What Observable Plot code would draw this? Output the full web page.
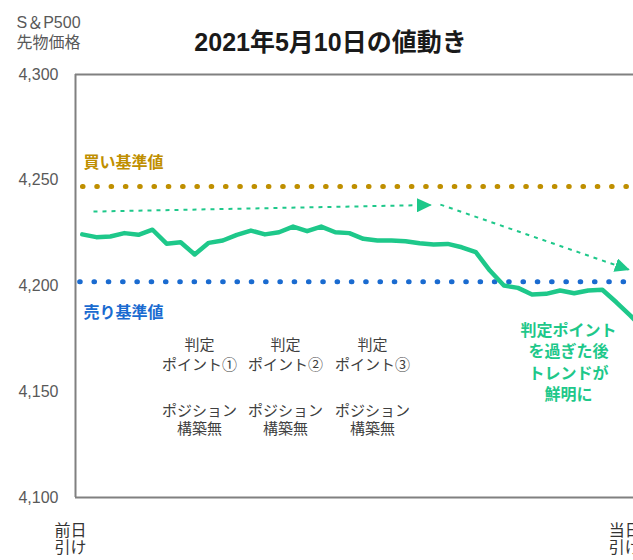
<!DOCTYPE html>
<html><head><meta charset="utf-8">
<script src="https://cdn.jsdelivr.net/npm/d3@7"></script>
<script src="https://cdn.jsdelivr.net/npm/@observablehq/plot@0.6"></script>
<style>body{margin:0;background:#fff}</style>
</head><body><div id="chart"></div>
<script>
// ---- data ----
const title = "2021年5月10日の値動き";
const yLabel = "S＆P500\n先物価格";
const yTicks = [4100, 4150, 4200, 4250, 4300];
const xTickLabels = ["前日\n引け", "当日\n引け"];
const xTickPos = [-0.83, 38.6];
const xDomain = [-0.48, 39.22];
const prices = [4224.4, 4223.1, 4223.4, 4225.0, 4224.2, 4226.6, 4220.0, 4220.7, 4214.9, 4220.4,
  4221.5, 4224.2, 4226.2, 4224.4, 4225.4, 4228.1, 4225.9, 4228.1, 4225.4, 4225.0,
  4222.3, 4221.5, 4221.5, 4221.2, 4220.2, 4219.6, 4219.9, 4218.3, 4216.0, 4207.3,
  4200.2, 4199.1, 4196.0, 4196.3, 4197.9, 4196.6, 4197.9, 4198.2, 4192.3, 4186.0, 4179.0];
const buyLevel = 4247, sellLevel = 4202;
const buyLabel = "買い基準値", sellLabel = "売り基準値";
const labelX = 0.09, buyLabelY = 4258.4, sellLabelY = 4187.1;
const judgeLabels = ["判定\nポイント①", "判定\nポイント②", "判定\nポイント③"];
const judgeX = [8.35, 14.46, 20.65];
const judgeY = 4168.1;
const positionLabel = "ポジション\n構築無";
const positionY = 4136.9;
const trendNote = "判定ポイント\nを過ぎた後\nトレンドが\n鮮明に";
const trendX = 34.6, trendY = 4164.5;
const arrowX1 = [0.8, 25.48], arrowY1 = [4235.2, 4238.5];
const arrowX2 = [24.77, 38.86], arrowY2 = [4238.3, 4207.8];

// ---- build ----
const green = "#1ec88a", gold = "#bf8f00", blue = "#1a6bd0";
const font = '"Liberation Sans", "Noto Sans CJK JP", sans-serif';
const series = prices.map((v, i) => ({i, v}));
const xTicks = xTickLabels.map((t, k) => ({t, x: xTickPos[k]}));
const judge = judgeLabels.map((t, k) => ({t, x: judgeX[k], y: judgeY}));
const position = judgeX.map(x => ({t: positionLabel, x, y: positionY}));
const arrows = arrowX1.map((x1, k) => ({x1, y1: arrowY1[k], x2: arrowX2[k], y2: arrowY2[k]}));

const arrowHead = (color, context) => {
  const m = d3.create("svg:marker")
    .attr("viewBox", "-5 -5 10 10")
    .attr("markerWidth", 15).attr("markerHeight", 14)
    .attr("markerUnits", "userSpaceOnUse")
    .attr("preserveAspectRatio", "none")
    .attr("orient", "auto").attr("refX", 4).attr("refY", 0)
    .attr("fill", color).attr("stroke", "none");
  m.append("path").attr("d", "M-5,-5L5,0L-5,5Z").attr("stroke-dasharray", "none");
  return m.node();
};

const plot = Plot.plot({
  width: 633, height: 560,
  marginTop: 74, marginBottom: 63, marginLeft: 75, marginRight: 0,
  style: {fontFamily: font, color: "#595959", background: "#fff"},
  x: {domain: xDomain, axis: null},
  y: {domain: [4100, 4300]},
  marks: [
    Plot.axisY(yTicks, {tickSize: 0, tickPadding: 17, fontSize: 16, tickFormat: d3.format(","), label: null}),
    Plot.ruleY([buyLevel], {x1: 0.05, x2: xDomain[1], stroke: gold, strokeWidth: 5, strokeDasharray: "0.6,13.7", strokeLinecap: "round"}),
    Plot.ruleY([sellLevel], {x1: -0.15, x2: xDomain[1], stroke: blue, strokeWidth: 5, strokeDasharray: "0.6,13.7", strokeLinecap: "round"}),
    Plot.link(arrows, {x1: "x1", y1: "y1", x2: "x2", y2: "y2", stroke: green, strokeWidth: 2, strokeDasharray: "4,5", markerEnd: arrowHead}),
    Plot.line(series, {x: "i", y: "v", stroke: green, strokeWidth: 4.5, strokeLinejoin: "round", clip: true}),
    Plot.ruleY([4100, 4300], {stroke: "#808080", strokeWidth: 2}),
    Plot.ruleX([xDomain[0]], {stroke: "#808080", strokeWidth: 2}),
    Plot.text([{t: buyLabel, x: labelX, y: buyLabelY}], {x: "x", y: "y", text: "t", textAnchor: "start", fill: gold, fontWeight: "bold", fontSize: 16}),
    Plot.text([{t: sellLabel, x: labelX, y: sellLabelY}], {x: "x", y: "y", text: "t", textAnchor: "start", fill: blue, fontWeight: "bold", fontSize: 16}),
    Plot.text(judge, {x: "x", y: "y", text: "t", fontSize: 15, lineHeight: 1.33, lineAnchor: "middle", fill: "#404040"}),
    Plot.text(position, {x: "x", y: "y", text: "t", fontSize: 15, lineHeight: 1.2, lineAnchor: "middle", fill: "#404040"}),
    Plot.text([{t: trendNote, x: trendX, y: trendY}], {x: "x", y: "y", text: "t", fontSize: 16, fontWeight: "bold", lineHeight: 1.35, lineAnchor: "middle", fill: green}),
    Plot.text(xTicks, {x: "x", text: "t", frameAnchor: "bottom", dy: 41.5, lineAnchor: "middle", lineHeight: 1.1, fontSize: 16, fill: "#333"}),
    Plot.text([yLabel], {frameAnchor: "top-left", dx: -59, dy: -43, textAnchor: "start", lineAnchor: "middle", lineHeight: 1.25, fontSize: 16, fill: "#595959"}),
    Plot.text([title], {frameAnchor: "top", dx: -24, dy: -41, fontSize: 25, fontWeight: "bold", fill: "#1a1a1a"})
  ]
});
document.getElementById("chart").appendChild(plot);
</script>
</body></html>
